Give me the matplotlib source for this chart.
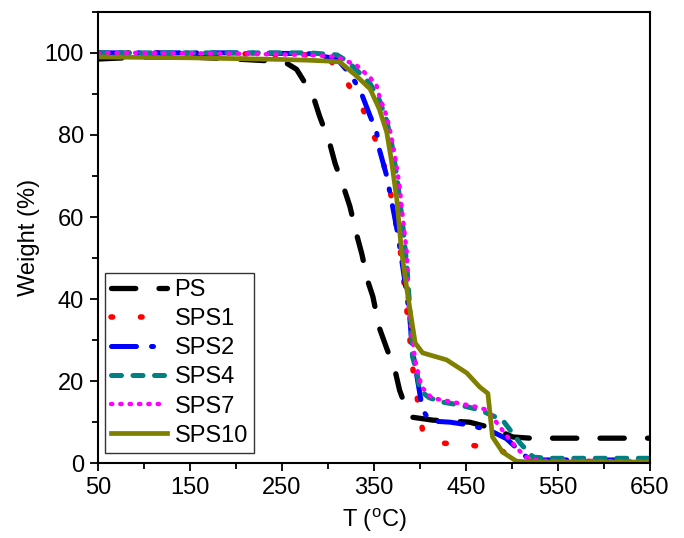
import matplotlib
matplotlib.use("Agg")
import matplotlib.pyplot as plt
from matplotlib.ticker import MultipleLocator

plt.rcParams['font.family'] = ['Liberation Sans', 'DejaVu Sans']
plt.rcParams['mathtext.fontset'] = 'custom'
plt.rcParams['mathtext.rm'] = 'Liberation Sans'

# Data
ps_T = [50, 100, 150, 200, 240, 255, 266, 284, 291, 302, 308, 318, 324, 331, 337, 343, 349, 356, 364, 373, 378, 385, 392, 414, 454, 480, 501, 520, 552, 650]
ps_W = [98.5, 99, 99, 98.5, 98, 97.5, 96, 89.5, 84.6, 78, 73, 66.7, 62.6, 56, 51, 44.7, 40.6, 33, 28, 22.7, 17.8, 13.5, 11.2, 10.5, 10, 8.5, 6.4, 6.1, 6.1, 6.1]

sps1_T = [50, 100, 200, 280, 300, 316, 335, 348, 359, 370, 380, 387, 393, 398, 403, 415, 425, 454, 484, 500, 510, 650]
sps1_W = [100, 100, 99.8, 99.5, 99, 94.4, 88, 81, 74.6, 64, 50, 35, 22, 14.7, 8, 5.5, 4.9, 4.4, 3.7, 1.5, 0.5, 0.4]

sps2_T = [50, 100, 200, 280, 310, 324, 335, 346, 353, 356, 364, 371, 376, 384, 389, 392, 397, 403, 411, 433, 454, 476, 494, 516, 530, 650]
sps2_W = [100, 100, 100, 99.8, 98.5, 94.9, 91, 84.6, 80.7, 76.5, 70, 61.9, 56, 44, 35.7, 27.6, 21, 13, 10.3, 10, 9.3, 8, 6, 1.5, 0.8, 0.8]

sps4_T = [50, 100, 200, 280, 310, 321, 335, 346, 356, 364, 369, 375, 381, 386, 389, 392, 397, 400, 410, 422, 443, 465, 490, 509, 523, 540, 650]
sps4_W = [100, 100, 100, 100, 99.5, 98, 95, 92.5, 88.5, 83.5, 78.5, 70, 59, 48, 38, 26, 22, 17.8, 16, 15, 14.2, 13, 10.5, 4.9, 1.5, 1.2, 1.2]

sps7_T = [50, 100, 200, 280, 310, 331, 346, 353, 356, 364, 369, 373, 378, 381, 386, 387, 391, 395, 402, 413, 436, 462, 473, 490, 505, 516, 530, 650]
sps7_W = [100, 100, 99.8, 99.5, 99, 97, 94, 92, 89.5, 84.6, 79.7, 74.8, 67.5, 61, 51, 40, 31.8, 25, 18.6, 15.9, 14.9, 13.7, 13, 8, 3.7, 1.5, 0.6, 0.5]

sps10_T = [50, 100, 150, 200, 250, 280, 300, 313, 331, 346, 356, 364, 369, 375, 380, 386, 391, 395, 403, 429, 451, 465, 474, 479, 490, 505, 520, 650]
sps10_W = [99, 98.9, 98.8, 98.6, 98.4, 98.2, 98, 97.8, 94.4, 91.2, 86.3, 80.7, 74, 64.3, 52, 42.3, 35, 29.3, 26.9, 25.2, 22, 18.6, 17, 6.4, 2.7, 0.5, 0.3, 0.3]

labels = ['PS', 'SPS1', 'SPS2', 'SPS4', 'SPS7', 'SPS10']
xticks = [50, 150, 250, 350, 450, 550, 650]
yticks = [0, 20, 40, 60, 80, 100]

fig = plt.figure(figsize=(6.84, 5.38), dpi=100)
ax = fig.add_axes([0.143, 0.139, 0.807, 0.839])

ax.plot(ps_T, ps_W, color='black', lw=3.8, linestyle=(0, (4.6, 4.4)), dash_capstyle='round', label=labels[0])
ax.plot(sps1_T, sps1_W, color='red', lw=4.0, linestyle=(0, (0.3, 5.0)), dash_capstyle='round', label=labels[1])
ax.plot(sps2_T, sps2_W, color='blue', lw=3.6, linestyle=(0, (5, 3, 0.4, 3)), dash_capstyle='round', label=labels[2])
ax.plot(sps4_T, sps4_W, color='#008080', lw=3.6, linestyle=(0, (2.0, 2.3)), dash_capstyle='round', label=labels[3])
ax.plot(sps7_T, sps7_W, color='#ff00ff', lw=3.2, linestyle=(0, (0.3, 1.8)), dash_capstyle='round', label=labels[4])
ax.plot(sps10_T, sps10_W, color='#808000', lw=3.4, linestyle='-', label=labels[5])

ax.set_xlim(50, 650)
ax.set_ylim(0, 110)
ax.set_xticks(xticks)
ax.set_yticks(yticks)
ax.xaxis.set_minor_locator(MultipleLocator(50))
ax.yaxis.set_minor_locator(MultipleLocator(10))
ax.tick_params(which='major', direction='out', length=6, width=1.3, labelsize=17, pad=4)
ax.tick_params(which='minor', direction='out', length=4, width=1.3)
for s in ax.spines.values():
    s.set_linewidth(1.5)

ax.set_xlabel(r'T ($^{\mathregular{o}}$C)', fontsize=17, labelpad=5)
ax.set_ylabel('Weight (%)', fontsize=17, labelpad=3)

leg = ax.legend(loc='lower left', bbox_to_anchor=(0.0, 0.008), fontsize=17, frameon=True,
                fancybox=False, edgecolor='black', handlelength=2.4, handletextpad=0.3,
                labelspacing=0.3, borderpad=0.25, borderaxespad=0.3)
leg.get_frame().set_linewidth(1.0)

fig.savefig('out.png', dpi=100)
